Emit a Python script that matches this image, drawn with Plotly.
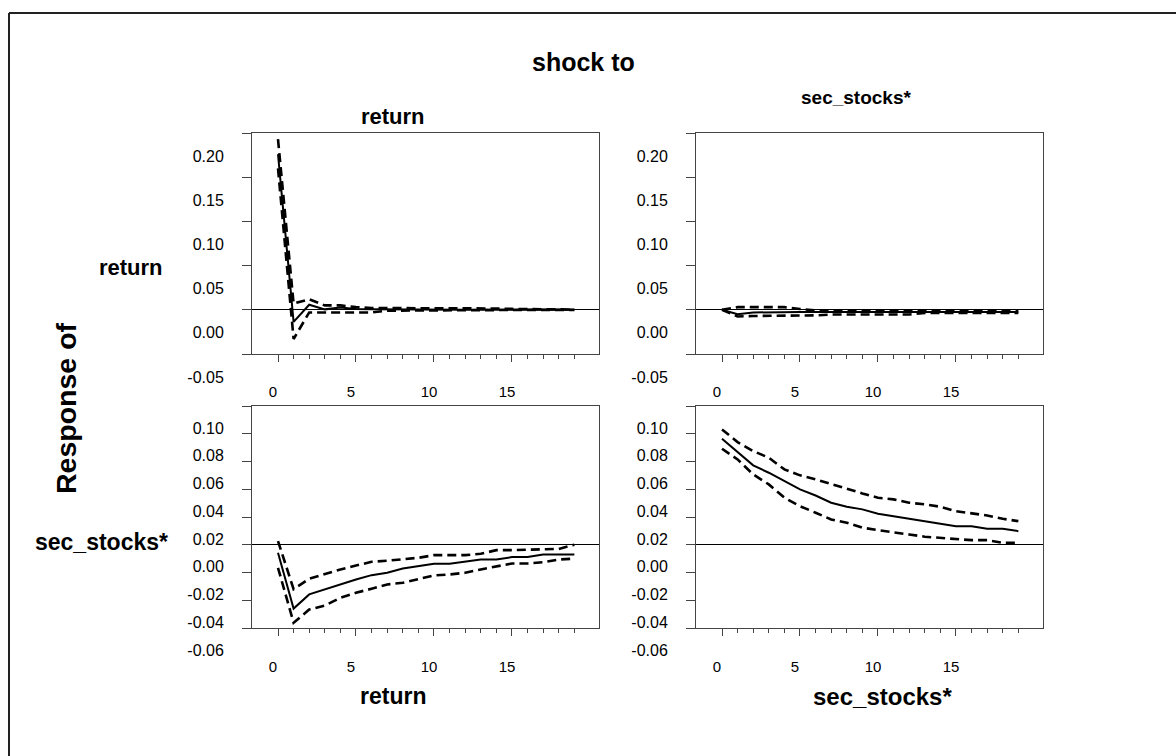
import plotly.graph_objects as go

W, H = 1176, 756

# ---------------- data ----------------
steps = list(range(20))

x_tickvals = [0, 5, 10, 15]
x_ticktext = ["0", "5", "10", "15"]
x_minor = list(range(20))

top_yticks = [-0.05, 0.00, 0.05, 0.10, 0.15, 0.20]
top_yticktext = ["-0.05", "0.00", "0.05", "0.10", "0.15", "0.20"]
bot_yticks = [-0.06, -0.04, -0.02, 0.00, 0.02, 0.04, 0.06, 0.08, 0.10]
bot_yticktext = ["-0.06", "-0.04", "-0.02", "0.00", "0.02", "0.04", "0.06", "0.08", "0.10"]

shock_names = ["return", "sec_stocks*"]
response_names = ["return", "sec_stocks*"]

# response of return to shock to return
rr_mid = [0.176, -0.0136, 0.0057, 0.0005, 0.0027, 0.0008, 0.0005, 0.0003, 0.0002, 0.0002,
          0.0001, 0.0001, 0.0001, 0.0, 0.0, 0.0, 0.0, 0.0, 0.0, 0.0]
rr_up = [0.193, 0.007, 0.012, 0.005, 0.005, 0.003, 0.002, 0.002, 0.002, 0.002,
         0.002, 0.002, 0.002, 0.002, 0.0015, 0.001, 0.0008, 0.0005, 0.0004, 0.0003]
rr_lo = [0.160, -0.033, -0.003, -0.003, -0.003, -0.003, -0.003, -0.001, -0.0008, -0.0006,
         -0.0005, -0.0004, -0.0003, -0.0003, -0.0002, -0.0002, -0.0001, -0.0001, -0.0001, -0.0001]

# response of return to shock to sec_stocks*
rs_mid = [0.0, -0.005, -0.003, -0.0026, -0.0026, -0.0026, -0.0026, -0.0026, -0.0026, -0.0026,
          -0.0026, -0.0026, -0.0026, -0.0026, -0.0026, -0.0026, -0.0026, -0.0026, -0.0026, -0.0026]
rs_up = [0.0, 0.003, 0.003, 0.003, 0.003, 0.001, -0.0008, -0.0008, -0.0008, -0.0008,
         -0.0008, -0.0008, -0.0008, -0.0005, -0.0005, -0.0005, -0.0005, -0.0005, -0.0005, -0.0005]
rs_lo = [0.0, -0.0075, -0.007, -0.007, -0.0068, -0.0065, -0.0063, -0.0053, -0.0053, -0.0053,
         -0.0053, -0.0053, -0.0053, -0.0035, -0.0035, -0.0035, -0.0035, -0.0035, -0.0035, -0.0035]

# response of sec_stocks* to shock to return
sr_mid = [-0.0058, -0.046, -0.0358, -0.0322, -0.0281, -0.025, -0.0219, -0.0202, -0.0171, -0.0154,
          -0.0137, -0.0137, -0.0123, -0.0106, -0.0106, -0.0089, -0.0089, -0.007, -0.007, -0.007]
sr_up = [0.0026, -0.032, -0.0245, -0.021, -0.0178, -0.015, -0.0123, -0.0115, -0.0105, -0.0094,
         -0.0075, -0.0075, -0.0075, -0.0065, -0.0039, -0.0039, -0.0035, -0.0035, -0.003, 0.0]
sr_lo = [-0.0166, -0.0562, -0.0467, -0.0438, -0.0382, -0.0346, -0.0317, -0.0286, -0.0274, -0.0245,
         -0.0221, -0.0214, -0.0202, -0.0178, -0.0154, -0.0135, -0.0135, -0.0126, -0.0106, -0.010]

# response of sec_stocks* to shock to sec_stocks*
ss_mid = [0.0764, 0.0668, 0.0572, 0.0519, 0.0459, 0.0399, 0.0355, 0.0303, 0.0274, 0.0255,
          0.0224, 0.0206, 0.0187, 0.0168, 0.0154, 0.0134, 0.0134, 0.0115, 0.0115, 0.0098]
ss_up = [0.0831, 0.074, 0.0675, 0.0627, 0.0543, 0.050, 0.0471, 0.0435, 0.0404, 0.037,
         0.0339, 0.0327, 0.0303, 0.0291, 0.0274, 0.0242, 0.0226, 0.0211, 0.0187, 0.017]
ss_lo = [0.0692, 0.0615, 0.0507, 0.0435, 0.0339, 0.0278, 0.0231, 0.0182, 0.0159, 0.0123,
         0.0105, 0.0087, 0.0074, 0.0058, 0.005, 0.0038, 0.0033, 0.0033, 0.0014, 0.0014]

panels = [
    # (axis suffix, mid, up, lo)
    ("", rr_mid, rr_up, rr_lo),
    ("2", rs_mid, rs_up, rs_lo),
    ("3", sr_mid, sr_up, sr_lo),
    ("4", ss_mid, ss_up, ss_lo),
]

# ---------------- figure ----------------
FONT = "Arial, Liberation Sans, sans-serif"
fig = go.Figure()

for suf, mid, up, lo in panels:
    xa = "x" + suf
    ya = "y" + suf
    for vals, dash, w in ((up, "9px,5px", 2.6), (lo, "9px,5px", 2.6), (mid, "solid", 2.0)):
        fig.add_trace(go.Scatter(x=steps, y=vals, mode="lines", xaxis=xa, yaxis=ya,
                                 line=dict(color="black", width=w, dash=dash),
                                 showlegend=False, hoverinfo="skip"))


def px_x(px):
    return px / W


def px_y(py):
    return 1 - py / H


boxes = {
    "": (252, 599, 133, 354),
    "2": (696, 1043, 133, 354),
    "3": (252, 599, 406, 628),
    "4": (696, 1043, 406, 628),
}

layout = dict(
    template="none",
    width=W, height=H,
    margin=dict(l=0, r=0, t=0, b=0, autoexpand=False),
    paper_bgcolor="white", plot_bgcolor="white",
    showlegend=False,
    font=dict(family=FONT, color="black"),
)

for suf, (x0, x1, y0, y1) in boxes.items():
    top_row = suf in ("", "2")
    xkey = "xaxis" + suf
    ykey = "yaxis" + suf
    layout[xkey] = dict(
        domain=[px_x(x0), px_x(x1)],
        range=[-1.667, 20.58],
        anchor="y" + suf,
        automargin=False,
        showgrid=False, zeroline=False,
        showline=True, mirror=True, linecolor="#444", linewidth=1,
        tickmode="array", tickvals=x_tickvals, ticktext=x_ticktext,
        ticks="outside", ticklen=7, tickcolor="#444", tickwidth=1,
        minor=dict(tickmode="array", tickvals=x_minor, ticks="outside",
                   ticklen=4, tickcolor="#444", tickwidth=1, showgrid=False),
        tickfont=dict(size=15, family=FONT, color="black"),
        ticklabelshift=-5, ticklabelstandoff=17 if top_row else 18,
        fixedrange=True,
    )
    layout[ykey] = dict(
        domain=[px_y(y1), px_y(y0)],
        range=[-0.05, 0.20] if top_row else [-0.06, 0.10],
        anchor="x" + suf,
        automargin=False,
        showgrid=False,
        zeroline=True, zerolinecolor="black", zerolinewidth=1,
        showline=True, mirror=True, linecolor="#444", linewidth=1,
        tickmode="array",
        tickvals=top_yticks if top_row else bot_yticks,
        ticktext=top_yticktext if top_row else bot_yticktext,
        ticks="outside", ticklen=9, tickcolor="#444", tickwidth=1,
        tickfont=dict(size=16, family=FONT, color="black"),
        ticklabelshift=23 if top_row else 22, ticklabelstandoff=15,
        fixedrange=True,
    )

ann = []


def add_text(text, x, y, size, angle=0):
    ann.append(dict(text="<b>%s</b>" % text, x=px_x(x), y=px_y(y), xref="paper", yref="paper",
                    xanchor="center", yanchor="middle", showarrow=False, textangle=angle,
                    font=dict(size=size, family=FONT, color="black")))


add_text("shock to", 583, 62, 25)
add_text(shock_names[0], 393, 116, 22)
add_text(shock_names[1], 856, 97, 19)
add_text(response_names[0], 131, 267, 22)
add_text(response_names[1], 101, 542, 23)
add_text("Response of", 66, 408, 28.5, angle=-90)
add_text(shock_names[0], 393, 696, 23)
add_text(shock_names[1], 882, 696, 24)

layout["annotations"] = ann
layout["shapes"] = [
    dict(type="line", xref="paper", yref="paper", x0=px_x(9), x1=1.0, y0=px_y(13), y1=px_y(13),
         line=dict(color="#222", width=2)),
    dict(type="line", xref="paper", yref="paper", x0=px_x(9), x1=px_x(9), y0=0.0, y1=px_y(13),
         line=dict(color="#222", width=2)),
]

fig.update_layout(**layout)
fig.write_html("out.html",
               config={"displayModeBar": False, "staticPlot": True},
               post_script="document.body.style.margin='0';document.body.style.overflow='hidden';")
